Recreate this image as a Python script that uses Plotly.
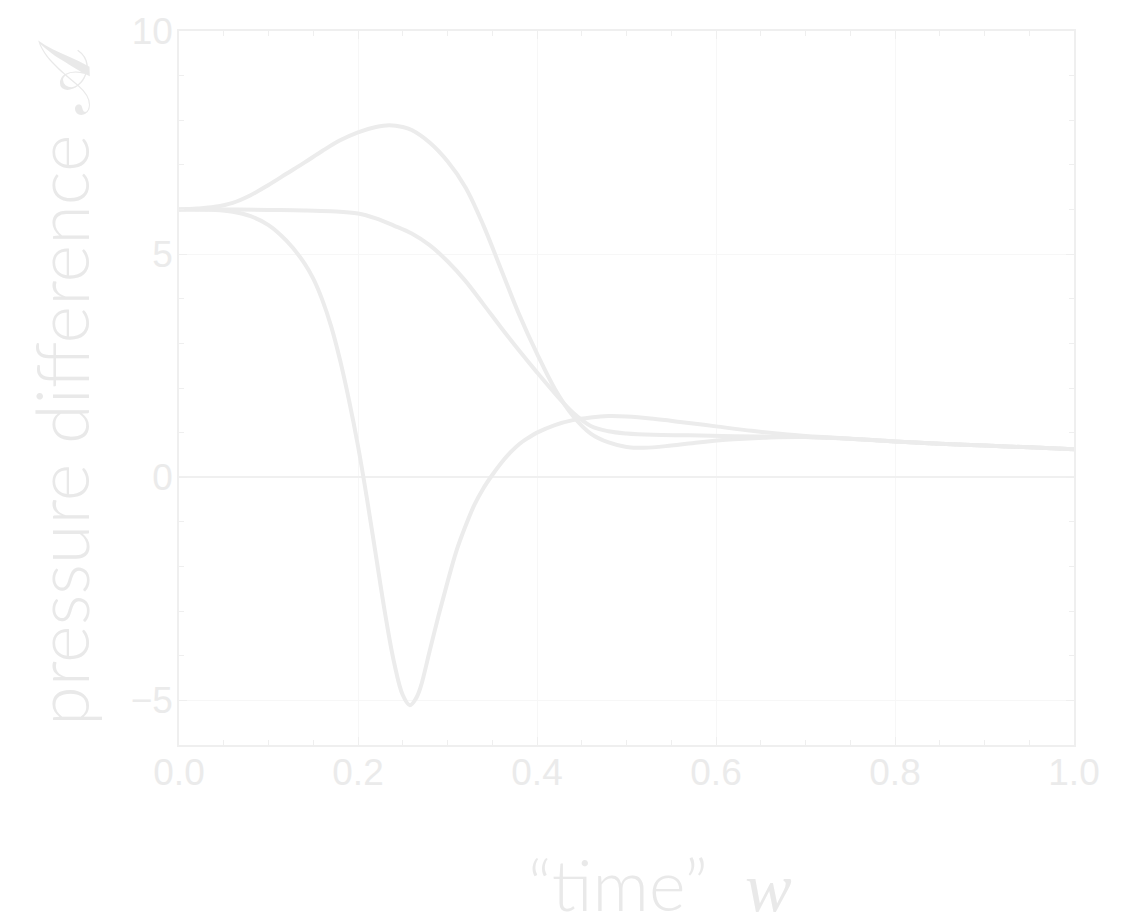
import plotly.graph_objects as go

# ---- data ----
w_hump = [0.00, 0.02, 0.04, 0.06, 0.08, 0.10, 0.12, 0.14, 0.16, 0.18, 0.20, 0.22, 0.235,
          0.25, 0.26, 0.28, 0.30, 0.32, 0.34, 0.36, 0.38, 0.40, 0.42, 0.44, 0.46, 0.48,
          0.50, 0.52, 0.55, 0.58, 0.62, 0.66, 0.70, 0.76, 0.80, 0.85, 0.90, 0.95, 1.00]
a_hump = [6.00, 6.02, 6.06, 6.15, 6.32, 6.55, 6.80, 7.05, 7.31, 7.55, 7.73, 7.85, 7.89,
          7.85, 7.78, 7.50, 7.08, 6.50, 5.65, 4.65, 3.65, 2.77, 1.98, 1.38, 0.98, 0.78,
          0.68, 0.66, 0.71, 0.78, 0.85, 0.89, 0.90, 0.85, 0.80, 0.75, 0.71, 0.67, 0.63]

w_flat = [0.00, 0.05, 0.10, 0.14, 0.17, 0.20, 0.22, 0.24, 0.26, 0.28, 0.30, 0.32, 0.34,
          0.36, 0.38, 0.40, 0.42, 0.44, 0.46, 0.48, 0.50, 0.53, 0.57, 0.62, 0.66, 0.70,
          0.76, 0.80, 0.85, 0.90, 0.95, 1.00]
a_flat = [6.00, 6.00, 5.99, 5.98, 5.96, 5.91, 5.80, 5.64, 5.46, 5.20, 4.84, 4.40, 3.88,
          3.35, 2.84, 2.35, 1.88, 1.45, 1.15, 1.03, 0.98, 0.95, 0.94, 0.92, 0.91, 0.90,
          0.85, 0.80, 0.75, 0.71, 0.67, 0.63]

w_dip = [0.00, 0.04, 0.06, 0.08, 0.10, 0.12, 0.14, 0.15, 0.16, 0.17, 0.18, 0.19, 0.20,
         0.21, 0.22, 0.23, 0.24, 0.25, 0.258, 0.265, 0.27, 0.28, 0.29, 0.30, 0.31, 0.32,
         0.33, 0.34, 0.35, 0.36, 0.37, 0.38, 0.39, 0.40, 0.42, 0.44, 0.46, 0.48, 0.50,
         0.53, 0.56, 0.60, 0.64, 0.68, 0.72, 0.76, 0.80, 0.85, 0.90, 0.95, 1.00]
a_dip = [6.00, 5.99, 5.95, 5.85, 5.65, 5.30, 4.80, 4.45, 3.98, 3.38, 2.62, 1.72, 0.70,
         -0.48, -1.75, -3.02, -4.12, -4.88, -5.11, -4.95, -4.70, -3.90, -3.10, -2.35, -1.65, -1.10,
         -0.62, -0.25, 0.05, 0.32, 0.55, 0.74, 0.88, 1.00, 1.17, 1.28, 1.34, 1.37, 1.36,
         1.31, 1.24, 1.14, 1.04, 0.96, 0.90, 0.85, 0.80, 0.75, 0.71, 0.67, 0.63]

x_ticks = [0.0, 0.2, 0.4, 0.6, 0.8, 1.0]
y_ticks = [-5, 0, 5, 10]
y_tick_text = ["\u22125", "0", "5", "10"]

LINE = "#ececec"
TEXT = "#ebebeb"
AXIS = "#efefef"
GRID = "#f7f7f7"

fig = go.Figure()
for xs, ys in [(w_hump, a_hump), (w_flat, a_flat), (w_dip, a_dip)]:
    fig.add_trace(go.Scatter(x=xs, y=ys, mode="lines",
                             line=dict(color=LINE, width=4, shape="spline", smoothing=1.0),
                             showlegend=False, hoverinfo="skip"))

tickfont = dict(family="Liberation Sans, Arial, sans-serif", size=37, color=TEXT)
fig.update_xaxes(range=[0, 1], tickvals=x_ticks, ticktext=[f"{v:.1f}" for v in x_ticks],
                 ticks="inside", ticklen=8, tickwidth=1.2, tickcolor=AXIS,
                 showline=True, linecolor=AXIS, linewidth=1.5, mirror="ticks",
                 showgrid=True, gridcolor=GRID, gridwidth=1, zeroline=False,
                 tickfont=tickfont, ticklabelstandoff=-6, automargin=False,
                 minor=dict(dtick=0.05, ticks="inside", ticklen=5, tickcolor=AXIS, showgrid=False))
fig.update_yaxes(range=[-6, 10], tickvals=y_ticks, ticktext=y_tick_text,
                 ticks="inside", ticklen=8, tickwidth=1.2, tickcolor=AXIS,
                 showline=True, linecolor=AXIS, linewidth=1.5, mirror="ticks",
                 showgrid=True, gridcolor=GRID, gridwidth=1,
                 zeroline=True, zerolinecolor="#f0f0f0", zerolinewidth=1.5,
                 tickfont=tickfont, ticklabelstandoff=-3, automargin=False,
                 minor=dict(dtick=1, ticks="inside", ticklen=5, tickcolor=AXIS, showgrid=False))

fig.add_annotation(text="\u201ctime\u201d\u00a0 <span style='font-family:Liberation Serif'><i>w</i></span>",
                   xref="paper", yref="paper", x=0.537, y=-0.195,
                   xanchor="center", yanchor="middle", showarrow=False,
                   font=dict(family="Lato, 'Open Sans', sans-serif", size=70, color="#e9e9e9", weight=300))
fig.add_annotation(text="pressure difference <span style='font-family:DejaVu Serif'>\U0001D49C</span>",
                   xref="paper", yref="paper", x=-0.1307, y=0.507, textangle=-90,
                   xanchor="center", yanchor="middle", showarrow=False,
                   font=dict(family="Lato, 'Open Sans', sans-serif", size=72, color="#e9e9e9", weight=300))

# the page body adds an 8px offset; size the figure so it ends at the window edge
fig.update_layout(width=1119, height=907,
                  margin=dict(l=171, r=53, t=23, b=170, autoexpand=False),
                  paper_bgcolor="white", plot_bgcolor="white")

fig.write_html("out.html")
